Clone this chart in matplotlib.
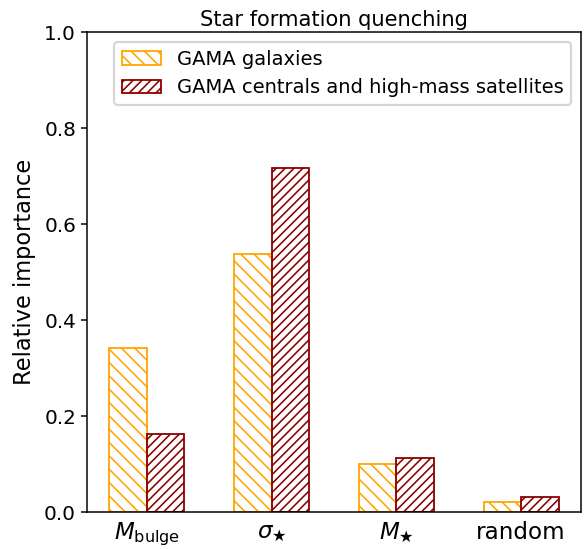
import matplotlib
matplotlib.use("Agg")
import matplotlib.pyplot as plt
import numpy as np

features = [r"$M_{\rm bulge}$", r"$\sigma_{\bigstar}$", r"$M_{\bigstar}$", "random"]
gama_all = [0.342, 0.538, 0.100, 0.021]
gama_centrals = [0.163, 0.716, 0.112, 0.031]
series_labels = ["GAMA galaxies", "GAMA centrals and high-mass satellites"]

DPI = 160
W, H = 584, 549


def px(n):
    """Convert a pixel size to points at the output resolution."""
    return n * 72.0 / DPI


plt.rcParams["hatch.linewidth"] = px(1.6)

fig = plt.figure(figsize=(W / DPI, H / DPI), dpi=DPI)
ax = fig.add_axes([87 / W, 1 - 512 / H, (581 - 87) / W, (512 - 32) / H])

x = np.arange(len(features))
w = 0.3
ax.bar(x - w / 2, gama_all, w, facecolor="none", edgecolor="orange",
       hatch="\\" * 4, linewidth=px(1.8), label=series_labels[0])
ax.bar(x + w / 2, gama_centrals, w, facecolor="none", edgecolor="darkred",
       hatch="/" * 6, linewidth=px(1.8), label=series_labels[1])

ax.set_xlim(-0.48, 3.48)
ax.set_xticks(x)
ax.set_xticklabels(features, fontsize=px(23))
ax.tick_params(axis="x", length=0, pad=px(9))
ax.set_ylim(0, 1.0)
ax.set_yticks([0, 0.2, 0.4, 0.6, 0.8, 1.0])
ax.tick_params(axis="y", labelsize=px(20), length=px(6), width=px(1.5), pad=px(5))
for s in ax.spines.values():
    s.set_linewidth(px(1.5))
ax.set_ylabel("Relative importance", fontsize=px(22.5), labelpad=px(8))
ax.set_title("Star formation quenching", fontsize=px(21), pad=px(6))
ax.legend(loc="upper right", fontsize=px(19.5), handlelength=2.0)

fig.savefig("out.png", dpi=DPI)
